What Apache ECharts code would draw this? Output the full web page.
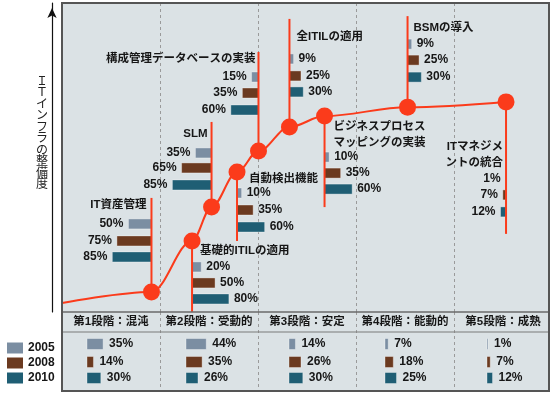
<!DOCTYPE html>
<html><head><meta charset="utf-8">
<script src="https://cdn.jsdelivr.net/npm/echarts@6/dist/echarts.min.js"></script>
<style>html,body{margin:0;padding:0;background:#fff}#c{width:560px;height:395px}</style>
</head><body><div id="c"></div>
<script>
// ---------- data ----------
const years = ['2005', '2008', '2010'];
const stages = ['第1段階：混沌', '第2段階：受動的', '第3段階：安定', '第4段階：能動的', '第5段階：成熟'];
const stageShare2005 = [35, 44, 14, 7, 1];
const stageShare2008 = [14, 35, 26, 18, 7];
const stageShare2010 = [30, 26, 30, 25, 12];
const milestones = ['IT資産管理', '基礎的ITILの適用', 'SLM', '自動検出機能', '構成管理データベースの実装',
  '全ITILの適用', 'ビジネスプロセス\nマッピングの実装', 'BSMの導入', 'ITマネジメ\nントの統合'];
const milestoneStage = [0.913, 1.327, 1.526, 1.786, 2.005, 2.321, 2.679, 3.526, 4.531];
const milestoneLevel = [6.5, 23.0, 34.0, 45.3, 52.1, 59.9, 63.4, 66.3, 68.0];
const curveStart = [0, 2.9];
const adopt2005 = [50, 20, 35, 10, 15, 9, 10, 9, 1];
const adopt2008 = [75, 50, 65, 35, 35, 25, 35, 25, 7];
const adopt2010 = [85, 80, 85, 60, 60, 30, 60, 30, 12];
const yAxisTitle = 'ＩＴインフラの整備度';

// ---------- layout / style ----------
const RED = '#fb3b1b';
const YEAR_COLORS = ['#7b8ea2', '#6b3a20', '#1f5e74'];
const TXT = '#161616';
const FONT_MIX = '"Liberation Sans", "Noto Sans CJK JP", sans-serif';
const BAR_UNIT = 0.0047;   // stage-axis units per percent point
// pixel offsets of each callout relative to its dot
const callout = [
  { side: -1, lineTo: -94, labelDx: -5, labelDy: -87, barDy: [-68, -51, -35] },
  { side: 1, lineTo: 71, labelDx: 8, labelDy: 10, barDy: [26, 42, 58] },
  { side: -1, lineTo: -85, labelDx: -4, labelDy: -73, barDy: [-54, -39, -22] },
  { side: 1, lineTo: 69, labelDx: 12, labelDy: 7, barDy: [21, 38, 55] },
  { side: -1, lineTo: -99, labelDx: -3, labelDy: -92, barDy: [-74, -58, -41] },
  { side: 1, lineTo: -108, labelDx: 7, labelDy: -90, barDy: [-68, -51, -35] },
  { side: 1, lineTo: 91, labelDx: 9, labelDy: 19, barDy: [41, 57, 73] },
  { side: 1, lineTo: -91, labelDx: 6, labelDy: -79, barDy: [-63, -47, -30] },
  { side: -1, lineTo: 132, labelDx: -3, labelDy: 53, barDy: [77, 93, 110] }
];
const tableRowY = [32, 50, 66];
const tableBarDx = [25, 26, 31, 29, 33];

const adopt = [adopt2005, adopt2008, adopt2010];
const shares = [stageShare2005, stageShare2008, stageShare2010];

function calloutItem(params, api) {
  const i = params.dataIndex, L = callout[i];
  const p = api.coord([api.value(0), api.value(1)]);
  return {
    type: 'group', children: [
      { type: 'line', shape: { x1: p[0], y1: p[1], x2: p[0], y2: p[1] + L.lineTo }, style: { stroke: RED, lineWidth: 2 } },
      { type: 'text', x: p[0] + L.labelDx, y: p[1] + L.labelDy,
        style: { text: milestones[i], font: 'bold 11.5px ' + FONT_MIX, fill: TXT,
          align: L.side < 0 ? 'right' : 'left', verticalAlign: 'middle', lineHeight: 16 } }
    ]
  };
}
function barItem(k) {
  return function (params, api) {
    const i = params.dataIndex, L = callout[i];
    const p = api.coord([api.value(0), api.value(1)]);
    const w = api.size([api.value(2) * BAR_UNIT, 0])[0];
    const y = p[1] + L.barDy[k];
    const x0 = L.side < 0 ? p[0] - w : p[0];
    return {
      type: 'group', children: [
        { type: 'rect', shape: { x: x0, y: y - 5, width: w, height: 10 },
          style: { fill: api.visual('color'), stroke: 'rgba(255,255,255,0.35)', lineWidth: 1 } },
        { type: 'text', x: L.side < 0 ? x0 - 5 : x0 + w + 5, y: y,
          style: { text: api.value(2) + '%', font: 'bold 12px "Liberation Sans", Arial, sans-serif', fill: TXT,
            align: L.side < 0 ? 'right' : 'left', verticalAlign: 'middle' } }
      ]
    };
  };
}
function tableItem(params, api) {
  const j = api.value(0);
  const c = api.coord([j, api.value(1)]);
  const band = api.size([1, 0])[0];
  const w = Math.max(1, api.value(2) * BAR_UNIT * band);
  const x0 = c[0] - band / 2 + tableBarDx[j];
  return {
    type: 'group', children: [
      { type: 'rect', shape: { x: x0, y: c[1] - 5.5, width: w, height: 11 },
        style: { fill: api.visual('color'), stroke: 'rgba(255,255,255,0.35)', lineWidth: 1 } },
      { type: 'text', x: x0 + w + 6, y: c[1],
        style: { text: api.value(2) + '%', font: 'bold 12px "Liberation Sans", Arial, sans-serif', fill: TXT,
          align: 'left', verticalAlign: 'middle' } }
    ]
  };
}

const series = [];
series.push({
  type: 'line', xAxisIndex: 0, yAxisIndex: 0, z: 5,
  data: [{ value: curveStart, symbol: 'none' }].concat(milestoneStage.map((x, i) => [x, milestoneLevel[i]])),
  smooth: 0.35, smoothMonotone: 'x', symbol: 'circle', symbolSize: 17,
  itemStyle: { color: RED }, lineStyle: { color: RED, width: 2 }, emphasis: { disabled: true }, silent: true
});
series.push({
  type: 'custom', name: 'callout', xAxisIndex: 0, yAxisIndex: 0, z: 4, silent: true,
  data: milestoneStage.map((x, i) => [x, milestoneLevel[i]]), encode: { x: 0, y: 1 }, renderItem: calloutItem
});
years.forEach((yr, k) => {
  series.push({
    type: 'custom', name: yr, xAxisIndex: 0, yAxisIndex: 0, z: 3, silent: true,
    itemStyle: { color: YEAR_COLORS[k] },
    data: milestoneStage.map((x, i) => [x, milestoneLevel[i], adopt[k][i]]), encode: { x: 0, y: 1 },
    renderItem: barItem(k)
  });
  series.push({
    type: 'custom', name: yr, xAxisIndex: 1, yAxisIndex: 1, z: 3, silent: true,
    itemStyle: { color: YEAR_COLORS[k] },
    data: stages.map((s, j) => [j, tableRowY[k], shares[k][j]]), encode: { x: 0, y: 1 },
    renderItem: tableItem
  });
});

const dashed = { show: true, showMinLine: false, showMaxLine: false, interval: 0,
  lineStyle: { color: '#9a9a9a', type: [3, 3], width: 1 } };

const option = {
  animation: false,
  grid: [
    { left: 62, right: 8, top: 3, bottom: 83 },
    { left: 62, right: 8, top: 312, bottom: 5 }
  ],
  xAxis: [
    { gridIndex: 0, type: 'value', min: 0, max: 5, interval: 1,
      axisLine: { show: false }, axisTick: { show: false }, axisLabel: { show: false }, splitLine: dashed },
    { gridIndex: 1, type: 'category', data: stages, position: 'top',
      axisLine: { show: false }, axisTick: { show: false },
      axisLabel: { inside: true, margin: 4, interval: 0, color: TXT, fontWeight: 'bold', fontSize: 11.5, fontFamily: FONT_MIX },
      splitLine: dashed }
  ],
  yAxis: [
    { gridIndex: 0, type: 'value', min: 0, max: 100, offset: 10,
      axisLine: { show: true, onZero: false, symbol: ['none', 'arrow'], symbolSize: [7, 10], symbolOffset: [0, -5],
        lineStyle: { color: '#111', width: 1.2 } },
      axisTick: { show: false }, axisLabel: { show: false }, splitLine: { show: false } },
    { gridIndex: 1, type: 'value', min: 0, max: 78, inverse: true, show: false }
  ],
  legend: {
    data: years, orient: 'vertical', left: 7, top: 342, padding: 0, icon: 'rect', itemWidth: 16, itemHeight: 11, itemGap: 3,
    textStyle: { fontWeight: 'bold', fontSize: 12, lineHeight: 12, color: TXT, fontFamily: '"Liberation Sans", Arial, sans-serif' },
    selectedMode: false
  },
  graphic: [
    { type: 'rect', z: -1, silent: true, shape: { x: 62, y: 3, width: 487, height: 388 }, style: { fill: '#dbe2e5' } },
    { type: 'line', z: 50, silent: true, shape: { x1: 62, y1: 312, x2: 549, y2: 312 }, style: { stroke: '#6a6a6a', lineWidth: 1.5 } },
    { type: 'line', z: 50, silent: true, shape: { x1: 62, y1: 332, x2: 549, y2: 332 }, style: { stroke: '#7a7a7a', lineWidth: 1.2 } },
    { type: 'rect', z: 60, silent: true, shape: { x: 62, y: 3, width: 487, height: 388 }, style: { fill: 'none', stroke: '#555', lineWidth: 2 } },
    { type: 'text', silent: true, x: 42, y: 132,
      style: { text: yAxisTitle.split('').join('\n'), font: '12px "Noto Sans CJK JP", sans-serif', lineHeight: 11.5,
        fill: '#222', align: 'center', verticalAlign: 'middle' } }
  ],
  series: series
};
const chart = echarts.init(document.getElementById('c'), null, { renderer: 'canvas' });
chart.setOption(option);
</script></body></html>
